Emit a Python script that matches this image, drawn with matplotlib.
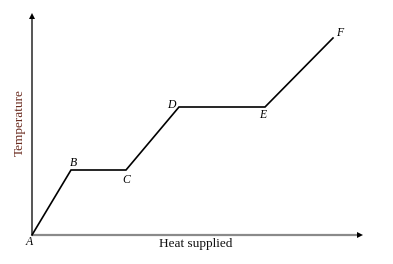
import matplotlib.pyplot as plt

# heating curve (arbitrary units)
labels = ['A', 'B', 'C', 'D', 'E', 'F']
heat = [0, 39, 94, 147, 233, 301]
temperature = [0, 65, 65, 128, 128, 197]
# label offsets in pixels (dx, dy)
offsets = [(-3, -7), (2, 7), (0, -10), (-8, 2), (-2, -8), (7, 5)]

plt.rcParams['font.family'] = ['Liberation Serif', 'DejaVu Serif']

fig = plt.figure(figsize=(3.93, 2.64), dpi=100)
ax = fig.add_axes([0, 0, 1, 1])
ax.set_xlim(-32, 361)
ax.set_ylim(-29, 235)
ax.axis('off')

# axes with arrow heads
ax.plot([0, 328], [0, 0], color='#8a8a8a', lw=1.6, solid_capstyle='butt')
ax.plot([0, 0], [0, 219], color='#555555', lw=1.4, solid_capstyle='butt')
ax.plot([328], [0], marker='>', color='black', ms=5, mew=0)
ax.plot([0], [219], marker='^', color='black', ms=5, mew=0)

ax.plot(heat, temperature, color='black', lw=1.2, solid_joinstyle='miter')

for lab, x, y, (dx, dy) in zip(labels, heat, temperature, offsets):
    ax.annotate(lab, (x, y), xytext=(dx * 0.72, dy * 0.72), textcoords='offset points',
                ha='center', va='center', fontsize=8.5, style='italic')

ax.text(164, -8.5, 'Heat supplied', ha='center', va='center', fontsize=9.5, color='#111111')
ax.text(-12, 112, 'Temperature', ha='center', va='center', rotation=90,
        fontsize=9.5, color='#6a2b1f')

fig.savefig('out.png', dpi=100)
